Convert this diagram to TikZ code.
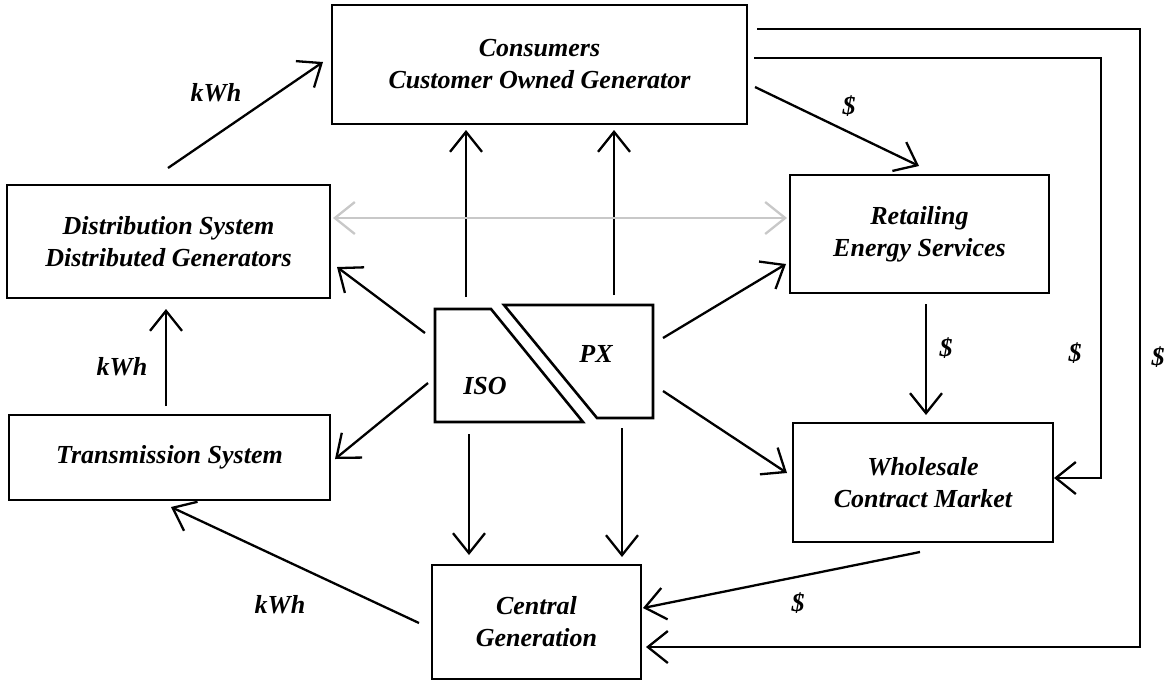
\documentclass[tikz,border=0pt]{standalone}
\usepackage{fontspec}
\setmainfont{Liberation Serif}
\usetikzlibrary{arrows.meta}
\definecolor{lightline}{RGB}{200,200,200}
\begin{document}
\begin{tikzpicture}[x=1pt,y=-1pt,
  txt/.style={font=\fontsize{26}{32}\selectfont\bfseries\itshape},
  box/.style={txt, draw, line width=2.6pt, inner sep=0pt, align=center},
  lbl/.style={txt, inner sep=0pt},
  flow/.style={line width=2.3pt, -{Straight Barb[length=20pt,width=32pt]}},
  shade/.style={line width=2.3pt, draw=lightline, {Straight Barb[length=20pt,width=32pt]}-{Straight Barb[length=20pt,width=32pt]}},
  block/.style={line width=2.6pt, line join=miter}]
\useasboundingbox (0,0) rectangle (1169,681);

% boxes
\node[box, minimum width=415pt, minimum height=119pt] (cons)  at (539.5,64.5) {Consumers\\Customer Owned Generator};
\node[box, minimum width=323pt, minimum height=113pt] (dist)  at (168.5,241.5) {Distribution System\\Distributed Generators};
\node[box, minimum width=259pt, minimum height=118pt] (ret)   at (919.5,234) {Retailing\\Energy Services};
\node[box, minimum width=321pt, minimum height=85pt]  (trans) at (169.5,457.5) {Transmission System};
\node[box, minimum width=260pt, minimum height=119pt] (whole) at (923,482.5) {Wholesale\\Contract Market};
\node[box, minimum width=209pt, minimum height=114pt] (cent)  at (536.5,622) {Central\\Generation};

% ISO and PX blocks
\draw[block] (435,309) -- (491,309) -- (583,422) -- (435,422) -- cycle;
\draw[block] (504,305) -- (653,305) -- (653,418) -- (597,418) -- cycle;
\node[lbl] (iso) at (485,386) {ISO};
\node[lbl] (px)  at (596,354) {PX};

% connector end points
\coordinate (d1) at (168,168);   \coordinate (c1) at (323,62);
\coordinate (t1) at (166,406);   \coordinate (d2) at (166,309);
\coordinate (g1) at (419,623);   \coordinate (t2) at (171,507);
\coordinate (i1) at (425,333);   \coordinate (d3) at (337,267);
\coordinate (i2) at (428,383);   \coordinate (t3) at (335,459);
\coordinate (i3) at (466,297);   \coordinate (c2) at (466,130);
\coordinate (p1) at (614,295);   \coordinate (c3) at (614,130);
\coordinate (i4) at (469,434);   \coordinate (g2) at (469,555);
\coordinate (p2) at (622,428);   \coordinate (g3) at (622,557);
\coordinate (p3) at (663,338);   \coordinate (r1) at (786,264);
\coordinate (p4) at (663,391);   \coordinate (w1) at (787,473);
\coordinate (c4) at (755,87);    \coordinate (r2) at (919,166);
\coordinate (r3) at (926,304);   \coordinate (w2) at (926,415);
\coordinate (w3) at (920,552);   \coordinate (g4) at (643,608);
\coordinate (c5) at (754,58);    \coordinate (w4) at (1054,478);
\coordinate (c6) at (757,29);    \coordinate (g5) at (646,647);
\coordinate (d4) at (333,218);   \coordinate (r4) at (787,218);

% energy flows
\draw[flow] (d1) -- (c1);
\draw[flow] (t1) -- (d2);
\draw[flow] (g1) -- (t2);

% ISO / PX links
\draw[flow] (i1) -- (d3);
\draw[flow] (i2) -- (t3);
\draw[flow] (i3) -- (c2);
\draw[flow] (p1) -- (c3);
\draw[flow] (i4) -- (g2);
\draw[flow] (p2) -- (g3);
\draw[flow] (p3) -- (r1);
\draw[flow] (p4) -- (w1);

% money flows
\draw[flow] (c4) -- (r2);
\draw[flow] (r3) -- (w2);
\draw[flow] (w3) -- (g4);
\draw[flow, line join=miter] (c5) -- (1101,58) -- (1101,478) -- (w4);
\draw[flow, line join=miter] (c6) -- (1140,29) -- (1140,647) -- (g5);

% information link
\draw[shade] (d4) -- (r4);

% labels
\node[lbl] (k1) at (216,93)  {kWh};
\node[lbl] (k2) at (122,367) {kWh};
\node[lbl] (k3) at (280,605) {kWh};
\node[lbl] (s1) at (849,106) {\$};
\node[lbl] (s2) at (946,348) {\$};
\node[lbl] (s3) at (1075,353) {\$};
\node[lbl] (s4) at (1158,357) {\$};
\node[lbl] (s5) at (798,603) {\$};
\end{tikzpicture}
\end{document}
